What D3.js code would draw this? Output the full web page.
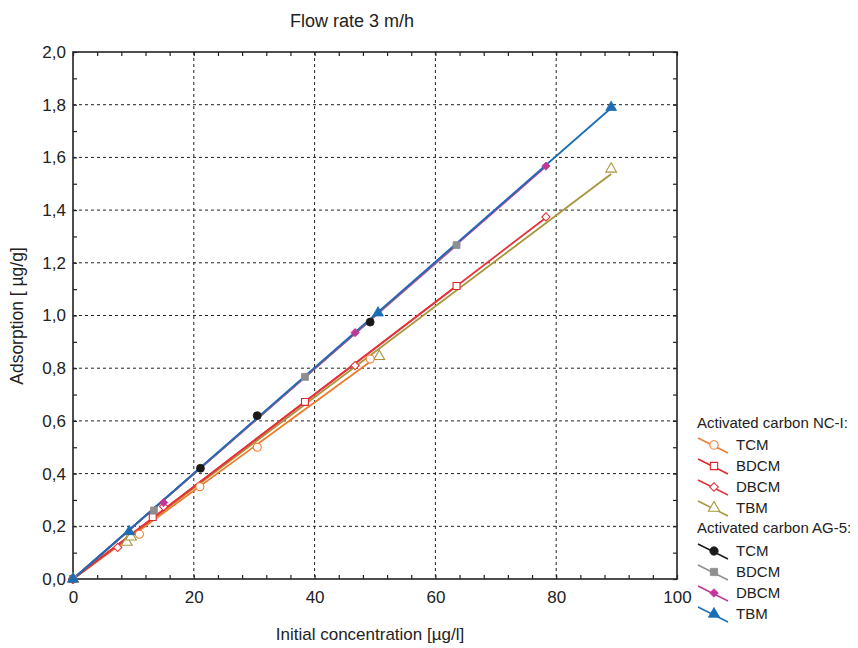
<!DOCTYPE html>
<html>
<head>
<meta charset="utf-8">
<script src="https://cdn.jsdelivr.net/npm/d3@7"></script>
<style>
  body { margin: 0; background: #fff; }
  text { font-family: "Liberation Sans", Arial, sans-serif; fill: #222; }
</style>
</head>
<body>
<div id="chart"></div>
<script>
// Data: [initial concentration, adsorption]
const ncTCM  = [[0, 0], [11.0, 0.17], [21.0, 0.35], [30.5, 0.50], [49.2, 0.835]];
const ncBDCM = [[0, 0], [13.2, 0.235], [38.4, 0.672], [63.5, 1.112]];
const ncDBCM = [[0, 0], [7.4, 0.12], [15.0, 0.275], [46.7, 0.81], [78.3, 1.374]];
const ncTBM  = [[0, 0], [8.9, 0.14], [9.6, 0.16], [50.7, 0.845], [89.1, 1.556]];
const agTCM  = [[0, 0], [21.1, 0.42], [30.5, 0.62], [49.2, 0.975]];
const agBDCM = [[0, 0], [13.4, 0.26], [38.4, 0.767], [63.5, 1.267]];
const agDBCM = [[0, 0], [15.0, 0.29], [46.7, 0.935], [78.3, 1.567]];
const agTBM  = [[0, 0], [9.3, 0.18], [50.5, 1.01], [89.1, 1.79]];

const xTicks = [0, 20, 40, 60, 80, 100];
const yTicks = [0, 0.2, 0.4, 0.6, 0.8, 1.0, 1.2, 1.4, 1.6, 1.8, 2.0];

const series = [
  {group: "nc", name: "TCM",  data: ncTCM,  color: "#f07a2c", shape: "circle",   filled: false},
  {group: "nc", name: "BDCM", data: ncBDCM, color: "#e0252e", shape: "square",   filled: false},
  {group: "nc", name: "DBCM", data: ncDBCM, color: "#e4343a", shape: "diamond",  filled: false},
  {group: "nc", name: "TBM",  data: ncTBM,  color: "#a8953a", shape: "triangle", filled: false},
  {group: "ag", name: "TCM",  data: agTCM,  color: "#1a1a1a", shape: "circle",   filled: true},
  {group: "ag", name: "BDCM", data: agBDCM, color: "#8e8e8e", shape: "square",   filled: true},
  {group: "ag", name: "DBCM", data: agDBCM, color: "#c0379b", shape: "diamond",  filled: true},
  {group: "ag", name: "TBM",  data: agTBM,  color: "#1b6db6", shape: "triangle", filled: true}
];

const W = 858, H = 648;
const margin = {top: 52, right: 181, bottom: 69, left: 73};
const width = W - margin.left - margin.right;
const height = H - margin.top - margin.bottom;

const svg = d3.select("#chart").append("svg")
    .attr("width", W)
    .attr("height", H);

const g = svg.append("g")
    .attr("transform", `translate(${margin.left},${margin.top})`);

const x = d3.scaleLinear().domain([0, 100]).range([0, width]);
const y = d3.scaleLinear().domain([0, 2]).range([height, 0]);
const fmt = v => d3.format(".1f")(v).replace(".", ",");

// Grid lines
g.append("g").selectAll("line")
    .data(xTicks.slice(1, -1))
    .enter().append("line")
    .attr("x1", d => x(d)).attr("x2", d => x(d))
    .attr("y1", 0).attr("y2", height)
    .attr("stroke", "#222").attr("stroke-width", 1)
    .attr("stroke-dasharray", "3,3");
g.append("g").selectAll("line")
    .data(yTicks.slice(1, -1))
    .enter().append("line")
    .attr("y1", d => y(d)).attr("y2", d => y(d))
    .attr("x1", 0).attr("x2", width)
    .attr("stroke", "#222").attr("stroke-width", 1)
    .attr("stroke-dasharray", "3,3");

// Axes (ticks pointing inward), minor ticks too
const xMinor = d3.range(0, 101, 4);
const yMinor = d3.range(0, 21, 1).map(d => d / 10);

function axisStyle(sel) {
  sel.select(".domain").remove();
  sel.selectAll("line").attr("stroke", "#222").attr("stroke-width", 1.2);
  sel.selectAll("text").style("font-size", "17px").attr("fill", "#222");
}

g.append("g").attr("transform", `translate(0,${height})`)
    .call(d3.axisBottom(x).tickValues(xMinor).tickSize(-4).tickFormat(""))
    .call(axisStyle);
g.append("g").attr("transform", `translate(0,${height})`)
    .call(d3.axisBottom(x).tickValues(xTicks).tickSize(0).tickPadding(12).tickFormat(d3.format("d")))
    .call(axisStyle);
g.append("g")
    .call(d3.axisTop(x).tickValues(xMinor).tickSize(-4).tickFormat(""))
    .call(axisStyle);
g.append("g")
    .call(d3.axisLeft(y).tickValues(yMinor).tickSize(-4).tickFormat(""))
    .call(axisStyle);
g.append("g")
    .call(d3.axisLeft(y).tickValues(yTicks).tickSize(0).tickPadding(7).tickFormat(fmt))
    .call(axisStyle);
g.append("g").attr("transform", `translate(${width},0)`)
    .call(d3.axisRight(y).tickValues(yMinor).tickSize(-4).tickFormat(""))
    .call(axisStyle);

// Frame
g.append("rect")
    .attr("width", width).attr("height", height)
    .attr("fill", "none").attr("stroke", "#222").attr("stroke-width", 1.6);

// Marker drawing
function marker(sel, s, k) {
  if (s.shape === "diamond") {
    sel.attr("d", d3.symbol().type(d3.symbolSquare).size(34 * k))
       .attr("transform", function() {
         return (d3.select(this).attr("transform") || "") + " rotate(45)";
       });
  } else {
    const sym = {circle: d3.symbolCircle, square: d3.symbolSquare, triangle: d3.symbolTriangle}[s.shape];
    const area = {circle: 50, square: 48, triangle: 50}[s.shape] * k;
    sel.attr("d", d3.symbol().type(sym).size(area));
  }
  sel.attr("fill", s.filled ? s.color : "#fff")
     .attr("stroke", s.color)
     .attr("stroke-width", s.filled ? 0.8 : 1.1);
}

// Fitted lines through origin (least squares) + markers
const plot = g.append("g");
const order = [3, 0, 1, 2, 4, 5, 6, 7];
order.forEach(i => {
  const s = series[i];
  const slope = d3.sum(s.data, d => d[0] * d[1]) / d3.sum(s.data, d => d[0] * d[0]);
  const xMax = d3.max(s.data, d => d[0]);
  plot.append("line")
      .attr("x1", x(0)).attr("y1", y(0))
      .attr("x2", x(xMax)).attr("y2", y(slope * xMax))
      .attr("stroke", s.color).attr("stroke-width", 1.8);
});
order.forEach(i => {
  const s = series[i];
  plot.append("g").selectAll("path")
      .data(s.data)
      .enter().append("path")
      .attr("transform", d => `translate(${x(d[0])},${y(d[1])})`)
      .call(sel => marker(sel, s, 1));
});

// Title and axis labels
svg.append("text")
    .attr("x", 352).attr("y", 27)
    .attr("text-anchor", "middle")
    .style("font-size", "18px")
    .text("Flow rate 3 m/h");
svg.append("text")
    .attr("x", 370).attr("y", 640)
    .attr("text-anchor", "middle")
    .style("font-size", "17px")
    .text("Initial concentration [µg/l]");
svg.append("text")
    .attr("transform", "translate(23,316) rotate(-90)")
    .attr("text-anchor", "middle")
    .style("font-size", "17.5px")
    .text("Adsorption [ µg/g]");

// Legend
const legend = svg.append("g").attr("transform", "translate(697,0)");
const headers = [
  {label: "Activated carbon NC-I:", y: 428},
  {label: "Activated carbon AG-5:", y: 533}
];
legend.selectAll("text.hdr")
    .data(headers)
    .enter().append("text")
    .attr("class", "hdr")
    .attr("x", 0).attr("y", d => d.y)
    .style("font-size", "15px")
    .text(d => d.label);

const rowY = [450, 471, 492, 513, 556, 577, 598, 619];
series.forEach((s, i) => {
  const row = legend.append("g").attr("transform", `translate(0,${rowY[i]})`);
  row.append("line")
      .attr("x1", 1).attr("y1", -12).attr("x2", 31).attr("y2", 3)
      .attr("stroke", s.color).attr("stroke-width", 1.5);
  row.append("path")
      .attr("transform", "translate(17,-5)")
      .call(sel => marker(sel, s, 1.1));
  row.append("text")
      .attr("x", 39).attr("y", 0)
      .style("font-size", "15px")
      .text(s.name);
});
</script>
</body>
</html>
